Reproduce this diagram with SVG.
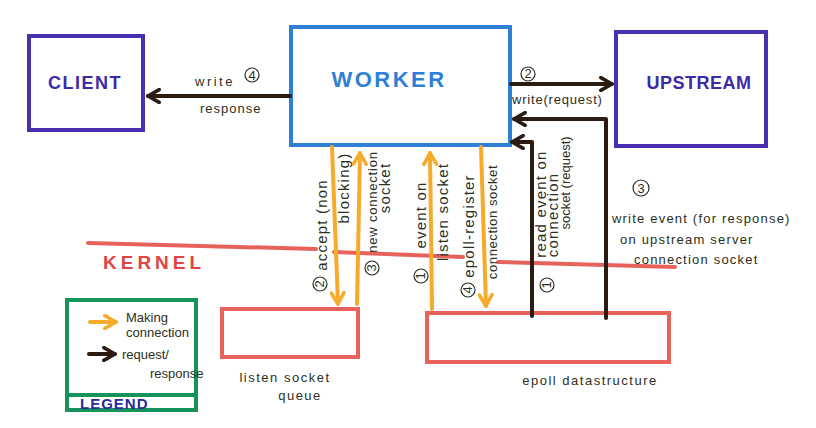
<svg xmlns="http://www.w3.org/2000/svg" width="816" height="428" viewBox="0 0 816 428">
<style>
.ink{font-family:"Liberation Sans",Arial,sans-serif;fill:#2b2f22;font-size:13px}
.v{font-size:15px;letter-spacing:1.2px}
.title{font-family:"Liberation Sans",Arial,sans-serif;font-weight:bold}
.blk{stroke:#2a1c12;stroke-width:4;fill:none;stroke-linecap:round;stroke-linejoin:round}
.org{stroke:#f6ab2c;stroke-width:4;fill:none;stroke-linecap:round}
.red{stroke:#e8625c;stroke-width:4;fill:none;stroke-linecap:round}
.num{fill:none;stroke:#2b2f22;stroke-width:1.2}
</style>
<defs>
<marker id="hb" viewBox="0 0 10 10" refX="8" refY="5" markerWidth="4" markerHeight="4" orient="auto" markerUnits="strokeWidth">
<path d="M1,1 L8,5 L1,9" fill="none" stroke="#2a1c12" stroke-width="2.2" stroke-linecap="round" stroke-linejoin="round"/>
</marker>
<marker id="ho" viewBox="0 0 10 10" refX="8" refY="5" markerWidth="4" markerHeight="4" orient="auto" markerUnits="strokeWidth">
<path d="M1,1 L8,5 L1,9" fill="none" stroke="#f6ab2c" stroke-width="2.2" stroke-linecap="round" stroke-linejoin="round"/>
</marker>
</defs>
<rect width="816" height="428" fill="#ffffff"/>

<g id="client">
<rect x="29" y="36" width="114" height="94" fill="none" stroke="#4a2fb0" stroke-width="4"/>
<text x="85" y="89" text-anchor="middle" class="title" font-size="18" letter-spacing="1.5" fill="#3c2aa8">CLIENT</text>
</g>
<g id="worker">
<rect x="291" y="27" width="219" height="118" fill="none" stroke="#2f7fd6" stroke-width="4"/>
<text x="389" y="87" text-anchor="middle" class="title" font-size="22" letter-spacing="2.5" fill="#2f7fd6">WORKER</text>
</g>
<g id="upstream">
<rect x="616" y="32" width="150" height="114" fill="none" stroke="#4a2fb0" stroke-width="4"/>
<text x="699" y="89" text-anchor="middle" class="title" font-size="18" letter-spacing="0.5" fill="#3c2aa8">UPSTREAM</text>
</g>

<g id="kernel">
<path class="red" d="M88,243 L316,249"/>
<path class="red" d="M334,252 L463,257"/>
<path class="red" d="M498,262 L675,267"/>
<text x="103" y="269" class="title" font-size="19" letter-spacing="4" fill="#e04545">KERNEL</text>
</g>

<g id="listen-queue">
<rect x="222" y="309" width="136" height="48" fill="none" stroke="#e8625c" stroke-width="4"/>
<text x="285" y="382" text-anchor="middle" class="ink" font-size="19" letter-spacing="1.5">listen socket</text>
<text x="300" y="400" text-anchor="middle" class="ink" font-size="19" letter-spacing="1.5">queue</text>
</g>
<g id="epoll">
<rect x="427" y="313" width="242" height="49" fill="none" stroke="#e8625c" stroke-width="4"/>
<text x="590" y="385" text-anchor="middle" class="ink" font-size="19" letter-spacing="1.5">epoll datastructure</text>
</g>

<g id="legend">
<rect x="67" y="300" width="129" height="110" fill="none" stroke="#14935a" stroke-width="4"/>
<line x1="67" y1="395" x2="196" y2="395" stroke="#14935a" stroke-width="4"/>
<path class="org" d="M90,322 L116,322" marker-end="url(#ho)"/>
<text x="126" y="322" class="ink" font-size="12">Making</text>
<text x="126" y="337" class="ink" font-size="12">connection</text>
<path class="blk" d="M89,354 L115,354" marker-end="url(#hb)"/>
<text x="122" y="359" class="ink" font-size="12">request/</text>
<text x="150" y="378" class="ink" font-size="11">response</text>
<text x="80" y="409" class="title" font-size="15" letter-spacing="1" fill="#2a2a9a">LEGEND</text>
</g>

<g id="connectors">
<!-- worker -> client -->
<path class="blk" d="M290,96 L148,96" marker-end="url(#hb)"/>
<text x="195" y="86" class="ink" font-size="18" letter-spacing="2.5">write</text>
<circle cx="252" cy="75" r="7" class="num"/><text x="252" y="80" text-anchor="middle" class="ink" font-size="11">4</text>
<text x="200" y="113" class="ink" font-size="17" letter-spacing="1">response</text>

<!-- worker -> upstream -->
<path class="blk" d="M511,84 L612,84" marker-end="url(#hb)"/>
<circle cx="528" cy="74" r="7" class="num"/><text x="528" y="78" text-anchor="middle" class="ink" font-size="11">2</text>
<text x="512" y="104" class="ink" font-size="13" letter-spacing="0.8">write(request)</text>

<!-- upstream write event back to worker -->
<path class="blk" d="M606,318 L606,119 L514,119" marker-end="url(#hb)"/>
<!-- read event on connection socket -->
<path class="blk" d="M532,316 L532,142 L512,142" marker-end="url(#hb)"/>
<text transform="translate(546,204) rotate(-90)" text-anchor="middle" class="ink v">read event on</text>
<text transform="translate(558,215) rotate(-90)" text-anchor="middle" class="ink v">connection</text>
<text transform="translate(570,183) rotate(-90)" text-anchor="middle" class="ink" font-size="13">socket (request)</text>
<circle cx="547" cy="285" r="7" class="num"/><text transform="translate(551,285) rotate(-90)" text-anchor="middle" class="ink" font-size="11">1</text>

<circle cx="641" cy="188" r="8" class="num"/><text x="641" y="193" text-anchor="middle" class="ink" font-size="13">3</text>
<text x="612" y="223" class="ink" font-size="16" letter-spacing="1.2">write event (for response)</text>
<text x="620" y="244" class="ink" font-size="16" letter-spacing="1.2">on upstream server</text>
<text x="634" y="264" class="ink" font-size="16" letter-spacing="1.2">connection socket</text>

<!-- accept (non blocking) -->
<path class="org" d="M332,147 L338,304" marker-end="url(#ho)"/>
<text transform="translate(327,225) rotate(-90)" text-anchor="middle" class="ink v">accept (non</text>
<text transform="translate(349,188) rotate(-90)" text-anchor="middle" class="ink v">blocking)</text>
<circle cx="320" cy="284" r="7" class="num"/><text transform="translate(324,284) rotate(-90)" text-anchor="middle" class="ink" font-size="11">2</text>

<!-- new connection socket -->
<path class="org" d="M357,304 L360,153" marker-end="url(#ho)"/>
<text transform="translate(377,202) rotate(-90)" text-anchor="middle" class="ink" font-size="14" letter-spacing="0.8">new connection</text>
<text transform="translate(390,188) rotate(-90)" text-anchor="middle" class="ink v">socket</text>
<circle cx="372" cy="268" r="7" class="num"/><text transform="translate(376,268) rotate(-90)" text-anchor="middle" class="ink" font-size="11">3</text>

<!-- event on listen socket -->
<path class="org" d="M432,309 L430,153" marker-end="url(#ho)"/>
<text transform="translate(426,215) rotate(-90)" text-anchor="middle" class="ink v">event on</text>
<text transform="translate(448,212) rotate(-90)" text-anchor="middle" class="ink v">listen socket</text>
<circle cx="421" cy="276" r="7" class="num"/><text transform="translate(425,276) rotate(-90)" text-anchor="middle" class="ink" font-size="11">1</text>

<!-- epoll-register connection socket -->
<path class="org" d="M481,147 L486,306" marker-end="url(#ho)"/>
<text transform="translate(474,226) rotate(-90)" text-anchor="middle" class="ink v">epoll-register</text>
<text transform="translate(497,222) rotate(-90)" text-anchor="middle" class="ink" font-size="14" letter-spacing="0.6">connection socket</text>
<circle cx="468" cy="290" r="7" class="num"/><text transform="translate(472,290) rotate(-90)" text-anchor="middle" class="ink" font-size="11">4</text>
</g>
</svg>
